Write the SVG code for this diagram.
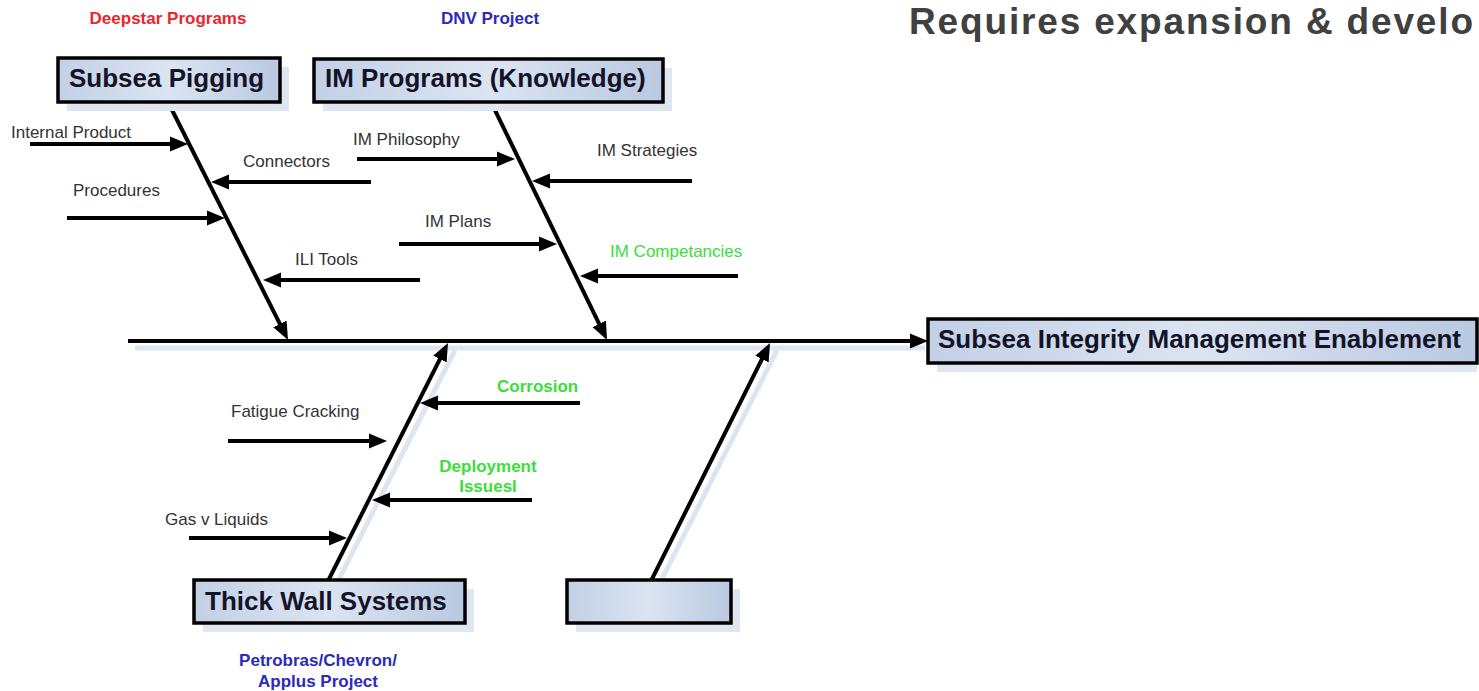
<svg xmlns="http://www.w3.org/2000/svg" width="1479" height="691" viewBox="0 0 1479 691">
<defs>
<linearGradient id="boxfill" x1="0" y1="0" x2="1" y2="0">
<stop offset="0" stop-color="#c2d0e6"/>
<stop offset="0.5" stop-color="#dbe4f1"/>
<stop offset="1" stop-color="#b9c9e1"/>
</linearGradient>
<marker id="ah" markerUnits="userSpaceOnUse" markerWidth="18" markerHeight="16" refX="12" refY="8" orient="auto">
<path d="M0,0.5 L18,8 L0,15.5 z" fill="#000"/>
</marker>
</defs>
<style>
.box{fill:url(#boxfill);stroke:#000;stroke-width:3.5}
.shadow{fill:#dfe6f0}
.sline{stroke:#dde5f0;stroke-width:5;fill:none}
.bone{stroke:#000;stroke-width:4;fill:none;marker-end:url(#ah)}
.arr{stroke:#000;stroke-width:4;fill:none;marker-end:url(#ah)}
.title{font-family:"Liberation Sans",Arial,sans-serif;font-weight:bold;font-size:26px;fill:#141428}
.lbl{font-family:"Liberation Sans",Arial,sans-serif;font-size:17px;fill:#333}
.grn{fill:#3cdc3c}
.note{font-family:"Liberation Sans",Arial,sans-serif;font-weight:bold;font-size:17px}
</style>
<rect width="1479" height="691" fill="#fff"/>

<text x="909" y="34" font-family="Liberation Sans, Arial, sans-serif" font-weight="bold" font-size="37" fill="#404040" textLength="564" lengthAdjust="spacing">Requires expansion &amp; develo</text>

<g id="shadows">
<line class="sline" x1="135" y1="348" x2="925" y2="348"/>
<line class="sline" x1="336" y1="585" x2="455" y2="350"/>
<line class="sline" x1="659" y1="585" x2="777" y2="350"/>
</g>

<g id="connectors">
<line class="bone" x1="128" y1="341" x2="922" y2="341"/>
<line class="bone" x1="168" y1="102" x2="285.3" y2="334.6"/>
<line class="bone" x1="491" y1="102" x2="604.4" y2="334.6"/>
<line class="bone" x1="328" y1="581" x2="445.3" y2="348.4"/>
<line class="bone" x1="651" y1="581" x2="767.3" y2="348.4"/>
<line class="arr" x1="30" y1="144" x2="182" y2="144"/>
<line class="arr" x1="371" y1="182" x2="217" y2="182"/>
<line class="arr" x1="67" y1="218" x2="219" y2="218"/>
<line class="arr" x1="420" y1="280" x2="269" y2="280"/>
<line class="arr" x1="357" y1="159" x2="509" y2="159"/>
<line class="arr" x1="692" y1="181" x2="538" y2="181"/>
<line class="arr" x1="399" y1="244" x2="551" y2="244"/>
<line class="arr" x1="738" y1="276" x2="586" y2="276"/>
<line class="arr" x1="580" y1="403" x2="426" y2="403"/>
<line class="arr" x1="228" y1="441" x2="381" y2="441"/>
<line class="arr" x1="532" y1="500" x2="378" y2="500"/>
<line class="arr" x1="189" y1="538" x2="341" y2="538"/>
</g>

<g id="labels">
<text class="lbl" x="11" y="138">Internal Product</text>
<text class="lbl" x="243" y="167">Connectors</text>
<text class="lbl" x="73" y="196">Procedures</text>
<text class="lbl" x="295" y="265">ILI Tools</text>
<text class="lbl" x="353" y="145">IM Philosophy</text>
<text class="lbl" x="597" y="156">IM Strategies</text>
<text class="lbl" x="425" y="227">IM Plans</text>
<text class="lbl grn" x="610" y="257">IM Competancies</text>
<text class="lbl grn" x="497" y="392" font-weight="bold">Corrosion</text>
<text class="lbl" x="231" y="417">Fatigue Cracking</text>
<text class="lbl grn" x="488" y="472" font-weight="bold" text-anchor="middle">Deployment</text>
<text class="lbl grn" x="488" y="492" font-weight="bold" text-anchor="middle">Issuesl</text>
<text class="lbl" x="165" y="525">Gas v Liquids</text>
</g>

<g id="node-subsea-pigging">
<text class="note" x="168" y="24" text-anchor="middle" fill="#e8262b">Deepstar Programs</text>
<rect class="shadow" x="67" y="67" width="222" height="44"/>
<rect class="box" x="58" y="58" width="222" height="44"/>
<text class="title" x="69" y="87">Subsea Pigging</text>
</g>

<g id="node-im-programs">
<text class="note" x="490" y="24" text-anchor="middle" fill="#2b2bb8">DNV Project</text>
<rect class="shadow" x="323" y="68" width="349" height="43"/>
<rect class="box" x="314" y="59" width="349" height="43"/>
<text class="title" x="325" y="87">IM Programs (Knowledge)</text>
</g>

<g id="node-enablement">
<rect class="shadow" x="937" y="328" width="540" height="44"/>
<rect class="box" x="928" y="319" width="549" height="44"/>
<text class="title" x="938" y="348">Subsea Integrity Management Enablement</text>
</g>

<g id="node-thick-wall">
<rect class="shadow" x="203" y="589" width="271" height="43"/>
<rect class="box" x="194" y="580" width="271" height="43"/>
<text class="title" x="205" y="610">Thick Wall Systems</text>
<text class="note" x="318" y="666" text-anchor="middle" fill="#2b2bb8">Petrobras/Chevron/</text>
<text class="note" x="318" y="687" text-anchor="middle" fill="#2b2bb8">Applus Project</text>
</g>

<g id="node-blank">
<rect class="shadow" x="576" y="589" width="164" height="43"/>
<rect class="box" x="567" y="580" width="164" height="43"/>
</g>
</svg>
